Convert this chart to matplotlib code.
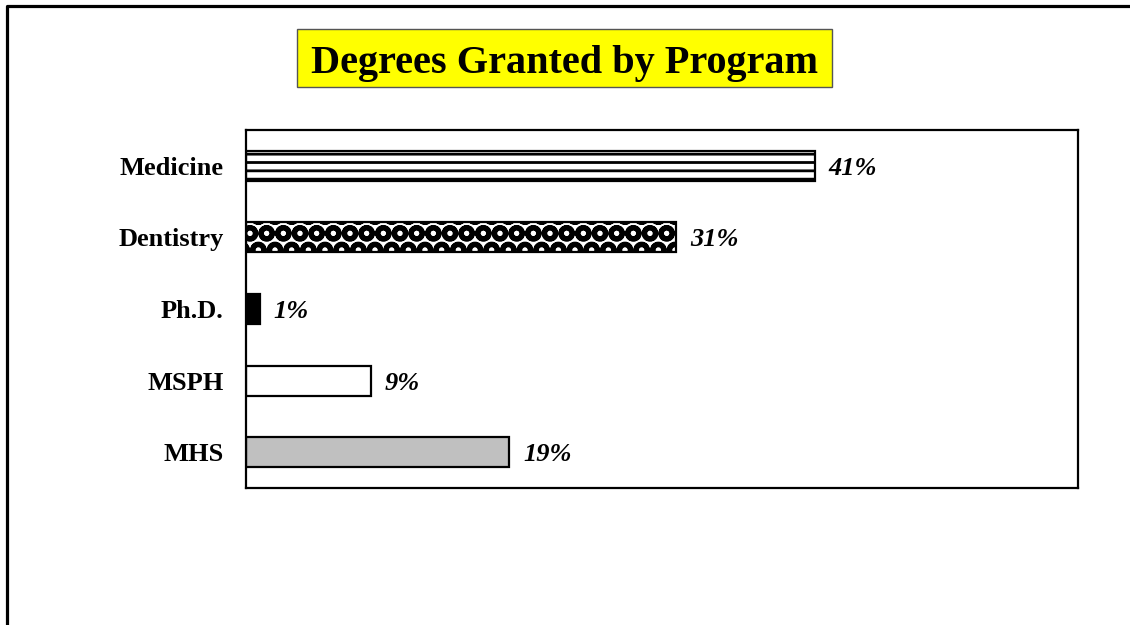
import matplotlib
matplotlib.use('Agg')
import matplotlib.pyplot as plt
from matplotlib.patches import Rectangle
from matplotlib.lines import Line2D

plt.rcParams['font.family'] = ['Liberation Serif', 'DejaVu Serif']

programs = ['Medicine', 'Dentistry', 'Ph.D.', 'MSPH', 'MHS']
percents = [41, 31, 1, 9, 19]
labels = ['41%', '31%', '1%', '9%', '19%']
fills = ['white', 'white', 'black', 'white', '#c0c0c0']
hatches = ['--', 'O', '', '', '']
hatch_lw = [2.0, 3.6, 1, 1, 1]

fig = plt.figure(figsize=(11.3, 6.25), dpi=100)
ax = fig.add_axes([0.2177, 0.2192, 0.7363, 0.5728])

ypos = list(range(len(programs)))
for i in ypos:
    plt.rcParams['hatch.linewidth'] = hatch_lw[i]
    ax.barh(i, percents[i], height=0.42, color=fills[i], edgecolor='black',
            linewidth=1.6, hatch=hatches[i])
    ax.text(percents[i] + 1.0, i, labels[i], va='center_baseline', ha='left',
            fontsize=19, fontweight='bold', fontstyle='italic')

ax.set_xlim(0, 60)
ax.set_ylim(4.5, -0.5)
ax.set_yticks(ypos)
ax.set_yticklabels(programs, fontsize=19, fontweight='bold')
ax.set_xticks([])
ax.tick_params(axis='y', length=0, pad=16)
for s in ax.spines.values():
    s.set_linewidth(1.6)

# title box
fig.patches.append(Rectangle((297/1130, 1-87/625), 535/1130, 58/625,
                             transform=fig.transFigure, facecolor='yellow',
                             edgecolor='#555555', linewidth=1))
fig.text(0.4996, 0.899, 'Degrees Granted by Program', ha='center', va='center',
         fontsize=29, fontweight='bold')

# outer frame
fig.lines.append(Line2D([7/1130, 7/1130, 1.0], [0, 1-5.5/625, 1-5.5/625],
                        transform=fig.transFigure, color='black', linewidth=2.3))

fig.savefig('out.png', dpi=100)
